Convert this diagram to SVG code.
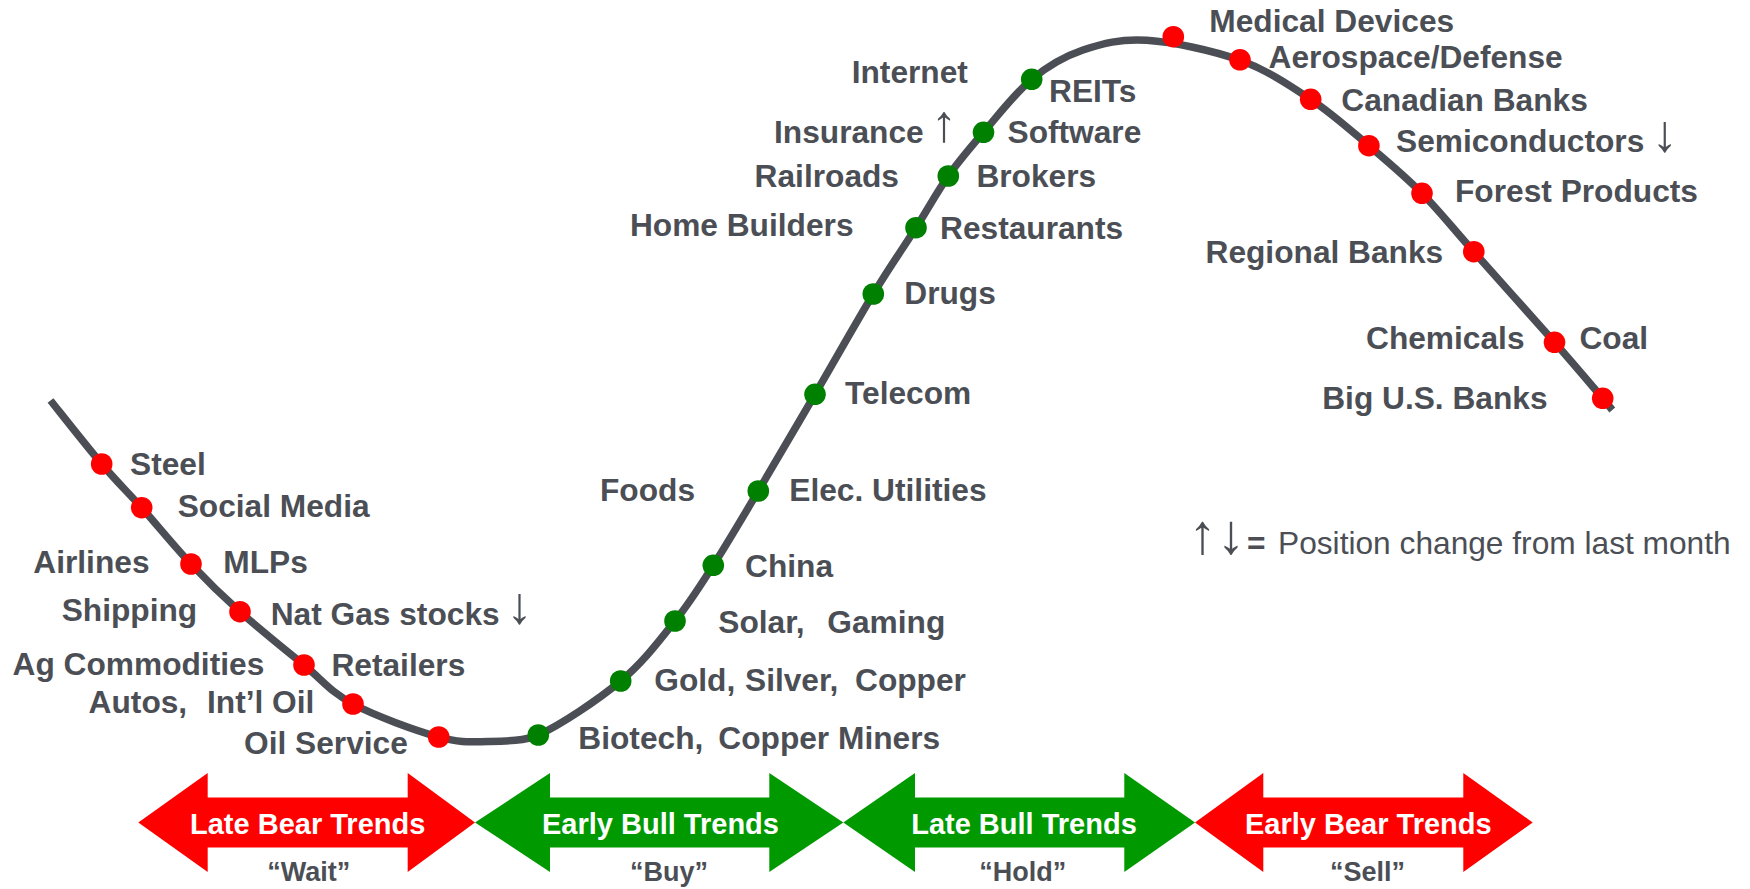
<svg xmlns="http://www.w3.org/2000/svg" width="1750" height="889" viewBox="0 0 1750 889">
  <style>
    .lbl { font-family: "Liberation Sans", Arial, sans-serif; font-weight: bold; font-size: 31.7px; fill: #4b4f55; }
    .arw { font-family: "Liberation Sans", Arial, sans-serif; font-weight: normal; font-size: 52px; }
    .arw-lg { font-family: "Liberation Sans", Arial, sans-serif; font-weight: normal; font-size: 56px; letter-spacing: 0.5px; }
    .legend { font-family: "Liberation Sans", Arial, sans-serif; font-weight: normal; font-size: 31.7px; fill: #4b4f55; }
    .curve { fill: none; stroke: #4b4f55; stroke-width: 7.5; stroke-linecap: butt; stroke-linejoin: round; }
    .red { fill: #ff0000; }
    .green { fill: #008000; }
    .bear { fill: #ff0000; }
    .bull { fill: #009a00; }
    .phase { font-family: "Liberation Sans", Arial, sans-serif; font-weight: bold; font-size: 29px; fill: #ffffff; text-anchor: middle; }
    .action { font-family: "Liberation Sans", Arial, sans-serif; font-weight: bold; font-size: 27px; fill: #4b4f55; text-anchor: middle; }
  </style>

  <rect width="1750" height="889" fill="#ffffff"/>

  <!-- market cycle curve -->
  <g id="connectors">
    <path class="curve" d="M 50.5 400.5
      C 59.03 411.08, 86.5 446.13, 101.7 464
      C 116.9 481.87, 126.82 491.03, 141.7 507.7
      C 156.58 524.37, 174.62 546.67, 191 564
      C 207.38 581.33, 221.17 594.87, 240 611.7
      C 258.83 628.53, 285.17 649.62, 304 665
      C 322.83 680.38, 330.55 692, 353 704
      C 375.45 716, 416.2 730.75, 438.7 737
      C 461.2 743.25, 471.4 741.83, 488 741.5
      C 504.6 741.17, 525 741, 538.3 735
      C 560.42 724.92, 597.92 700, 620.7 681
      C 643.48 662, 659.57 640.28, 675 621
      C 690.43 601.72, 699.42 586.97, 713.3 565.3
      C 727.18 543.63, 741.35 519.5, 758.3 491
      C 775.25 462.5, 795.83 427.13, 815 394.3
      C 834.17 361.47, 856.47 321.77, 873.3 294
      C 890.13 266.23, 903.5 247.37, 916 227.7
      C 928.5 208.03, 937.05 191.9, 948.3 176
      C 959.55 160.1, 969.6 148.42, 983.5 132.3
      C 997.4 116.18, 1015.12 93.02, 1031.7 79.3
      C 1048.28 65.58, 1063.83 56.5, 1083 50
      C 1102.17 43.5, 1120.53 38.58, 1146.7 40.3
      C 1172.87 42.02, 1212.67 50.47, 1240 60.3
      C 1267.33 70.13, 1289.22 85.07, 1310.7 99.3
      C 1332.18 113.53, 1350.35 130.03, 1368.9 145.7
      C 1387.45 161.37, 1404.52 175.63, 1422 193.3
      C 1439.48 210.97, 1451.72 226.87, 1473.8 251.7
      C 1495.88 276.53, 1533.02 317.87, 1554.5 342.3
      C 1575.98 366.73, 1593.07 387.02, 1602.7 398.3
      L 1612.3 410"/>
  </g>

  <!-- late bear sectors -->
  <g id="steel">
    <circle class="red" cx="101.7" cy="464" r="10.8"/>
    <text class="lbl" x="130" y="475">Steel</text>
  </g>
  <g id="social-media">
    <circle class="red" cx="141.7" cy="507.7" r="10.8"/>
    <text class="lbl" x="177.7" y="517.3">Social Media</text>
  </g>
  <g id="airlines-mlps">
    <circle class="red" cx="191" cy="564" r="10.8"/>
    <text class="lbl" x="33.3" y="572.7">Airlines</text>
    <text class="lbl" x="223.3" y="572.7">MLPs</text>
  </g>
  <g id="shipping-natgas">
    <circle class="red" cx="240" cy="611.7" r="10.8"/>
    <text class="lbl" x="61.7" y="620.7">Shipping</text>
    <text class="lbl" x="270.7" y="625">Nat Gas stocks<tspan class="arw" x="506.5" y="623">↓</tspan></text>
  </g>
  <g id="ag-retailers">
    <circle class="red" cx="304" cy="665" r="10.8"/>
    <text class="lbl" x="12.5" y="675">Ag Commodities</text>
    <text class="lbl" x="331.4" y="676">Retailers</text>
  </g>
  <g id="autos-intl-oil">
    <circle class="red" cx="353" cy="704" r="10.8"/>
    <text class="lbl" y="713.3"><tspan x="88.6">Autos,</tspan><tspan x="207">Int’l Oil</tspan></text>
  </g>
  <g id="oil-service">
    <circle class="red" cx="438.7" cy="737" r="10.8"/>
    <text class="lbl" x="244" y="753.5">Oil Service</text>
  </g>

  <!-- early bull sectors -->
  <g id="biotech-copper-miners">
    <circle class="green" cx="538.3" cy="735" r="10.8"/>
    <text class="lbl" y="749"><tspan x="578.3">Biotech,</tspan><tspan x="718.3">Copper Miners</tspan></text>
  </g>
  <g id="gold-silver-copper">
    <circle class="green" cx="620.7" cy="681" r="10.8"/>
    <text class="lbl" y="690.7"><tspan x="654.3">Gold,</tspan><tspan x="745">Silver,</tspan><tspan x="855">Copper</tspan></text>
  </g>
  <g id="solar-gaming">
    <circle class="green" cx="675" cy="621" r="10.8"/>
    <text class="lbl" y="632.7"><tspan x="718.3">Solar,</tspan><tspan x="827.3">Gaming</tspan></text>
  </g>
  <g id="china">
    <circle class="green" cx="713.3" cy="565.3" r="10.8"/>
    <text class="lbl" x="745" y="576.7">China</text>
  </g>
  <g id="foods-utilities">
    <circle class="green" cx="758.3" cy="491" r="10.8"/>
    <text class="lbl" x="600" y="500.7">Foods</text>
    <text class="lbl" x="789.3" y="500.7">Elec. Utilities</text>
  </g>
  <g id="telecom">
    <circle class="green" cx="815" cy="394.3" r="10.8"/>
    <text class="lbl" x="845" y="404.3">Telecom</text>
  </g>

  <!-- late bull sectors -->
  <g id="drugs">
    <circle class="green" cx="873.3" cy="294" r="10.8"/>
    <text class="lbl" x="904.3" y="304">Drugs</text>
  </g>
  <g id="homebuilders-restaurants">
    <circle class="green" cx="916" cy="227.7" r="10.8"/>
    <text class="lbl" x="629.9" y="235.7">Home Builders</text>
    <text class="lbl" x="940" y="239.3">Restaurants</text>
  </g>
  <g id="railroads-brokers">
    <circle class="green" cx="948.3" cy="176" r="10.8"/>
    <text class="lbl" x="754.6" y="187.3">Railroads</text>
    <text class="lbl" x="976.4" y="187.3">Brokers</text>
  </g>
  <g id="insurance-software">
    <circle class="green" cx="983.5" cy="132.3" r="10.8"/>
    <text class="lbl" x="774" y="142.7">Insurance<tspan class="arw" x="931" y="141">↑</tspan></text>
    <text class="lbl" x="1007.5" y="143.3">Software</text>
  </g>
  <g id="internet-reits">
    <circle class="green" cx="1031.7" cy="79.3" r="10.8"/>
    <text class="lbl" x="851.7" y="83.3">Internet</text>
    <text class="lbl" x="1049" y="101.7">REITs</text>
  </g>

  <!-- early bear sectors -->
  <g id="medical-devices">
    <circle class="red" cx="1173.3" cy="36.7" r="10.8"/>
    <text class="lbl" x="1209.3" y="31.7">Medical Devices</text>
  </g>
  <g id="aerospace-defense">
    <circle class="red" cx="1240" cy="59.8" r="10.8"/>
    <text class="lbl" x="1268.6" y="68.3">Aerospace/Defense</text>
  </g>
  <g id="canadian-banks">
    <circle class="red" cx="1310.7" cy="99.3" r="10.8"/>
    <text class="lbl" x="1341.3" y="111">Canadian Banks</text>
  </g>
  <g id="semiconductors">
    <circle class="red" cx="1368.9" cy="145.7" r="10.8"/>
    <text class="lbl" x="1396" y="152.3">Semiconductors<tspan class="arw" x="1651.7" y="150.5">↓</tspan></text>
  </g>
  <g id="forest-products">
    <circle class="red" cx="1422" cy="193.3" r="10.8"/>
    <text class="lbl" x="1455" y="202.3">Forest Products</text>
  </g>
  <g id="regional-banks">
    <circle class="red" cx="1473.8" cy="251.7" r="10.8"/>
    <text class="lbl" x="1205.5" y="263.3">Regional Banks</text>
  </g>
  <g id="chemicals-coal">
    <circle class="red" cx="1554.5" cy="342.3" r="10.8"/>
    <text class="lbl" x="1366" y="349.3">Chemicals</text>
    <text class="lbl" x="1579.4" y="349.3">Coal</text>
  </g>
  <g id="big-us-banks">
    <circle class="red" cx="1602.7" cy="398.3" r="10.8"/>
    <text class="lbl" x="1322.2" y="409">Big U.S. Banks</text>
  </g>

  <!-- legend -->
  <g id="legend">
    <text class="legend" y="554"><tspan class="arw-lg" x="1188.5" y="553">↑↓</tspan><tspan x="1247" y="554" font-weight="bold">=</tspan><tspan x="1278">Position change from last month</tspan></text>
  </g>

  <!-- cycle phase arrows -->
  <g id="phase-late-bear">
    <polygon class="bear" points="138.3,822.5 207.7,773 207.7,797.5 407.7,797.5 407.7,773 475,822.5 407.7,872 407.7,847.5 207.7,847.5 207.7,872"/>
    <text class="phase" x="307.7" y="834">Late Bear Trends</text>
    <text class="action" x="308.8" y="880.5">“Wait”</text>
  </g>
  <g id="phase-early-bull">
    <polygon class="bull" points="475,822.5 550,773 550,797.5 769.3,797.5 769.3,773 843.3,822.5 769.3,872 769.3,847.5 550,847.5 550,872"/>
    <text class="phase" x="660.5" y="834">Early Bull Trends</text>
    <text class="action" x="669" y="880.5">“Buy”</text>
  </g>
  <g id="phase-late-bull">
    <polygon class="bull" points="843.3,822.5 915,773 915,797.5 1124.3,797.5 1124.3,773 1195,822.5 1124.3,872 1124.3,847.5 915,847.5 915,872"/>
    <text class="phase" x="1024" y="834">Late Bull Trends</text>
    <text class="action" x="1022.7" y="880.5">“Hold”</text>
  </g>
  <g id="phase-early-bear">
    <polygon class="bear" points="1195,822.5 1263.3,773 1263.3,797.5 1463.3,797.5 1463.3,773 1532.7,822.5 1463.3,872 1463.3,847.5 1263.3,847.5 1263.3,872"/>
    <text class="phase" x="1368.3" y="834">Early Bear Trends</text>
    <text class="action" x="1367.5" y="880.5">“Sell”</text>
  </g>
</svg>
